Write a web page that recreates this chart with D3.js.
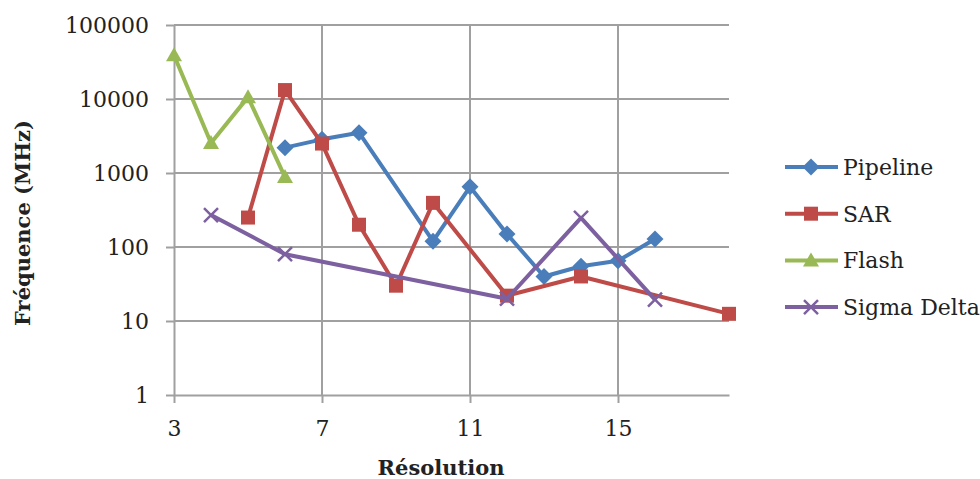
<!DOCTYPE html>
<html>
<head>
<meta charset="utf-8">
<script src="https://cdn.jsdelivr.net/npm/d3@7"></script>
<style>
  body { margin: 0; background: #fff; }
  text { font-family: "DejaVu Serif", serif; fill: #222; }
</style>
</head>
<body>
<div id="chart"></div>
<script>
// data
var pipelineX = [6, 7, 8, 10, 11, 12, 13, 14, 15, 16];
var pipelineY = [2200, 2850, 3500, 120, 650, 150, 40, 55, 65, 128];
var sarX = [5, 6, 7, 8, 9, 10, 12, 14, 18];
var sarY = [250, 13200, 2500, 200, 30, 395, 22, 40, 12.5];
var flashX = [3, 4, 5, 6];
var flashY = [39000, 2550, 10600, 880];
var sigmaX = [4, 6, 12, 14, 16];
var sigmaY = [270, 80, 20, 247, 19.5];
var xTicks = [3, 7, 11, 15];
var yTicks = [1, 10, 100, 1000, 10000, 100000];

var series = [
    {name: "Pipeline", xs: pipelineX, ys: pipelineY, color: "#4a7ebb", marker: "diamond"},
    {name: "SAR", xs: sarX, ys: sarY, color: "#be4b48", marker: "square"},
    {name: "Flash", xs: flashX, ys: flashY, color: "#98b954", marker: "triangle"},
    {name: "Sigma Delta", xs: sigmaX, ys: sigmaY, color: "#7d60a0", marker: "cross"}
];

var w = 980, h = 479;
var plotLeft = 174, plotRight = 729, plotTop = 25, plotBottom = 395;

var svg = d3.select("#chart")
    .append("svg")
    .attr("width", w)
    .attr("height", h);

var x = d3.scaleLinear().domain([3, 18]).range([plotLeft, plotRight]);
var y = d3.scaleLog().domain([1, 100000]).range([plotBottom, plotTop]);

// gridlines
svg.append("g")
    .selectAll("line")
    .data(yTicks.slice(1))
    .enter()
    .append("line")
    .attr("x1", plotLeft)
    .attr("x2", plotRight)
    .attr("y1", function(d) { return y(d); })
    .attr("y2", function(d) { return y(d); })
    .attr("stroke", "#a0a0a0")
    .attr("stroke-width", 2);

svg.append("g")
    .selectAll("line")
    .data(xTicks.slice(1))
    .enter()
    .append("line")
    .attr("x1", function(d) { return x(d); })
    .attr("x2", function(d) { return x(d); })
    .attr("y1", plotTop)
    .attr("y2", plotBottom)
    .attr("stroke", "#a0a0a0")
    .attr("stroke-width", 2);

// axes
var xAxis = svg.append("g")
    .attr("transform", "translate(0," + plotBottom + ")")
    .call(d3.axisBottom(x).tickValues(xTicks).tickSize(8).tickSizeOuter(0).tickPadding(17).tickFormat(d3.format("d")));

var yAxis = svg.append("g")
    .attr("transform", "translate(" + plotLeft + ",0)")
    .call(d3.axisLeft(y).tickValues(yTicks).tickSize(8).tickSizeOuter(0).tickPadding(17).tickFormat(d3.format("d")));

[xAxis, yAxis].forEach(function(a) {
    a.select(".domain").attr("stroke", "#a0a0a0").attr("stroke-width", 2);
    a.selectAll(".tick line").attr("stroke", "#a0a0a0").attr("stroke-width", 2);
    a.selectAll(".tick text")
        .attr("font-family", "DejaVu Serif")
        .attr("font-size", "22px")
        .attr("fill", "#222");
});

// axis titles
svg.append("text")
    .attr("x", 441)
    .attr("y", 475)
    .attr("text-anchor", "middle")
    .attr("font-size", "21px")
    .attr("font-weight", "bold")
    .text("Résolution");

svg.append("text")
    .attr("transform", "translate(30,223) rotate(-90)")
    .attr("text-anchor", "middle")
    .attr("font-size", "21px")
    .attr("font-weight", "bold")
    .text("Fréquence (MHz)");

var drawMarker = function(g, type, color) {
    if (type == "diamond") {
        g.append("path").attr("d", "M0,-8.5L8.5,0L0,8.5L-8.5,0Z").attr("fill", color);
    } else if (type == "square") {
        g.append("rect").attr("x", -7).attr("y", -7).attr("width", 14).attr("height", 14).attr("fill", color);
    } else if (type == "triangle") {
        g.append("path").attr("d", "M0,-8L8,6L-8,6Z").attr("fill", color);
    } else {
        g.append("path").attr("d", "M-7,-7L7,7M-7,7L7,-7").attr("stroke", color).attr("stroke-width", 2.5);
    }
};

var line = d3.line()
    .x(function(d) { return x(d[0]); })
    .y(function(d) { return y(d[1]); });

series.forEach(function(s) {
    var pts = d3.zip(s.xs, s.ys);
    svg.append("path")
        .datum(pts)
        .attr("d", line)
        .attr("fill", "none")
        .attr("stroke", s.color)
        .attr("stroke-width", 4)
        .attr("stroke-linejoin", "round");

    svg.selectAll(null)
        .data(pts)
        .enter()
        .append("g")
        .attr("transform", function(d) { return "translate(" + x(d[0]) + "," + y(d[1]) + ")"; })
        .each(function() { drawMarker(d3.select(this), s.marker, s.color); });
});

// legend
var legend = svg.append("g");
series.forEach(function(s, i) {
    var ly = 167 + i * 46.7;
    legend.append("line")
        .attr("x1", 785).attr("x2", 838)
        .attr("y1", ly).attr("y2", ly)
        .attr("stroke", s.color)
        .attr("stroke-width", 4);
    var g = legend.append("g").attr("transform", "translate(811," + ly + ")");
    drawMarker(g, s.marker, s.color);
    legend.append("text")
        .attr("x", 843)
        .attr("y", ly + 8)
        .attr("font-size", "22px")
        .text(s.name);
});
</script>
</body>
</html>
